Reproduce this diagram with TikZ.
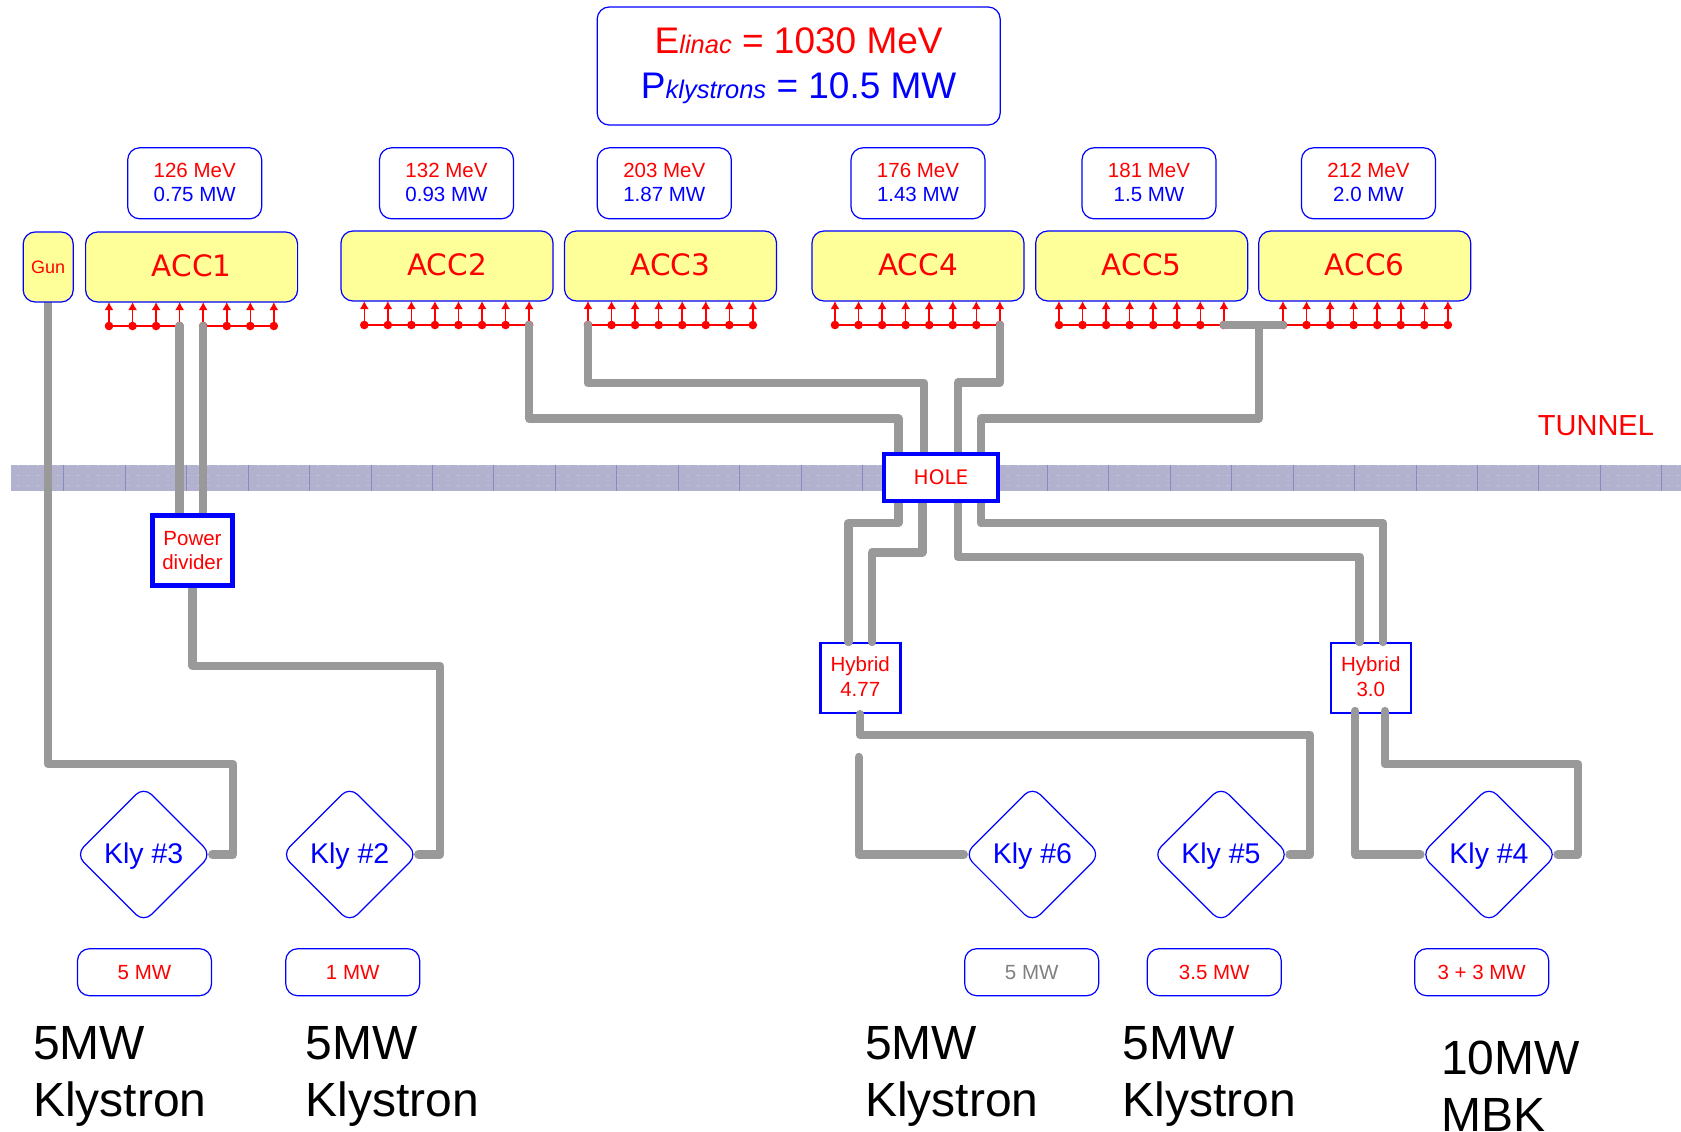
\documentclass[tikz,border=0pt]{standalone}
\usepackage{fontspec}
\setmainfont{Liberation Sans}
\newfontfamily\accfont{DejaVu Sans}
\usetikzlibrary{arrows.meta,backgrounds,positioning,shapes.geometric}
\definecolor{accyellow}{HTML}{FFFF99}
\definecolor{cablegrey}{HTML}{999999}
\definecolor{tunnelblue}{HTML}{B2B2CF}
\definecolor{tunneltick}{HTML}{8A8ABE}
\tikzset{
  accbox/.style={draw=blue,line width=1.2pt,fill=accyellow,rounded corners=12pt,minimum width=212pt,minimum height=70pt,inner sep=0pt,text=red,text depth=2pt,font=\accfont\fontsize{29.5}{35}\selectfont},
  gunbox/.style={accbox,minimum width=50pt,text depth=0pt,font=\fontsize{18}{22}\selectfont},
  infobox/.style={draw=blue,line width=1.2pt,fill=white,rounded corners=12pt,minimum width=134pt,minimum height=71pt,inner sep=0pt,align=center,font=\fontsize{20.5}{24.5}\selectfont},
  totalbox/.style={infobox,minimum width=403pt,minimum height=118pt,font=\fontsize{37}{44.7}\selectfont},
  devbox/.style={draw=blue,fill=white,inner sep=0pt,align=center,text=red},
  klybox/.style={diamond,aspect=1,draw=blue,line width=1.2pt,rounded corners=11pt,minimum width=136pt,minimum height=136pt,inner sep=0pt,text=blue,text height=24pt,font=\fontsize{28.5}{34}\selectfont},
  biglabel/.style={anchor=base west,align=left,inner sep=0pt,font=\fontsize{48}{57}\selectfont},
  cable/.style={draw=cablegrey,line width=8.4pt,line join=round,line cap=round},
  feed/.style={draw=red,line width=1.5pt,-{Latex[length=8pt,width=9pt]}},
  feedbar/.style={draw=red,line width=1.5pt}
}
\begin{document}
\begin{tikzpicture}[x=1pt,y=-1pt]
\useasboundingbox (0,0) rectangle (1681,1132);

\node[totalbox] (total) at (798.7,66) {\textcolor{red}{E{\fontsize{25.5}{25.5}\selectfont\itshape linac} = 1030 MeV}\\\textcolor{blue}{P{\fontsize{25.5}{25.5}\selectfont\itshape klystrons} = 10.5 MW}};

\foreach \name/\xc/\mev/\mwatt in {info1/194.7/126/0.75,info2/446.5/132/0.93,info3/664.3/203/1.87,info4/918/176/1.43,info5/1149/181/1.5,info6/1368.5/212/2.0}{
  \node[infobox,text depth=2pt] (\name) at (\xc,183.3) {\textcolor{red}{\mev{} MeV}\\\textcolor{blue}{\mwatt{} MW}};
}

\node[gunbox] (gun) at (48.2,267) {Gun};
\node[accbox] (acc1) at (191.6,267) {ACC1};
\foreach \name/\label/\xc in {acc2/ACC2/447,acc3/ACC3/670.5,acc4/ACC4/918,acc5/ACC5/1141.7,acc6/ACC6/1364.7}{
  \node[accbox] (\name) at (\xc,266) {\label};
}

\node[devbox,line width=4pt,minimum width=114pt,minimum height=47pt,font=\accfont\fontsize{20}{24}\selectfont] (hole) at (941,477.5) {HOLE};
\node[devbox,line width=4.5pt,minimum width=80pt,minimum height=70pt,font=\fontsize{20.5}{24.5}\selectfont] (divider) at (192.5,550.3) {Power\\divider};

\foreach \name/\label/\xc in {kly3/3/143.7,kly2/2/349.7,kly6/6/1032.4,kly5/5/1221,kly4/4/1489}{
  \node[klybox] (\name) at (\xc,854.5) {Kly \#\label};
}

\foreach \name/\label/\xa/\col in {out3/5 MW/144.5/red,out2/1 MW/352.7/red,out6/5 MW/1031.7/gray,out5/3.5 MW/1214.2/red,out4/3 + 3 MW/1481.7/red}{
  \node[infobox,minimum height=47pt,text=\col] (\name) at (\xa,972.2) {\label};
}

\node[biglabel] (label3) at (33,1116) {5MW\\Klystron};
\node[biglabel] (label2) at (305.5,1116) {5MW\\Klystron};
\node[biglabel] (label6) at (865,1116) {5MW\\Klystron};
\node[biglabel] (label5) at (1122.5,1116) {5MW\\Klystron};
\node[biglabel] (label4) at (1441,1131) {10MW\\MBK};

\node[anchor=base west,inner sep=0pt,text=red,font=\fontsize{29}{35}\selectfont] (tunnel) at (1537.7,435) {TUNNEL};

\begin{scope}[on background layer]
% tunnel wall
\fill[tunnelblue] (11,465) rectangle (1681,490.7);
\foreach \yd in {465.5,475.5,485.5}{
  \foreach \xd in {18,28,...,1678}{
    \fill[white,opacity=0.6] (\xd,\yd) circle (0.6);
  }
}
\foreach \k in {0,...,26}{
  \draw[tunneltick,line width=0.9pt] (63.6+61.47*\k,465) -- (63.6+61.47*\k,490.7);
}

% rf feeds under each module
\foreach \acc/\xa/\ya in {a1/109/326,a2/364.3/325,a3/588/325,a4/835/325,a5/1059/325,a6/1283/325}{
  \foreach \i in {1,...,8}{
    \coordinate (\acc d\i) at (\xa+23.55*\i-23.55,\ya);
    \draw[feed] (\acc d\i) -- ++(0,-24);
    \fill[red] (\acc d\i) circle (4.3);
  }
}
\draw[feedbar] (a1d1) -- (a1d4);
\draw[feedbar] (a1d5) -- (a1d8);
\foreach \acc in {a2,a3,a4,a5,a6}{
  \draw[feedbar] (\acc d1) -- (\acc d8);
}

\node[devbox,line width=2.6pt,minimum width=80pt,minimum height=70pt,text depth=2pt,font=\fontsize{20.5}{24.5}\selectfont] (hyb477) at (860.2,677.8) {Hybrid\\4.77};
\node[devbox,line width=2.6pt,minimum width=80pt,minimum height=70pt,text depth=2pt,font=\fontsize{20.5}{24.5}\selectfont] (hyb30) at (1370.8,677.8) {Hybrid\\3.0};

\coordinate (kly6end) at (858.7,757);

% waveguides
\draw[cable] (gun.south) |- (233,764) -- (233,854.5) -- (kly3.east);
\draw[cable] (a1d4) -- (a1d4 |- divider.north);
\draw[cable] (a1d5) -- (a1d5 |- divider.north);
\draw[cable] (divider.south) |- (440,665.7) -- (440,854.5) -- (kly2.east);

\draw[cable] (a2d8) |- (898.3,418.5) -- (898.3,452);
\draw[cable] (a3d1) |- (924,383) -- (924,452);
\draw[cable] (a4d8) |- (958,382.5) -- (958,452);
\draw[cable] (a5d8) -- (a6d1);
\draw[cable] (1258.7,325) |- (981,418.5) -- (981,452);

\draw[cable] (898.3,502) |- (848.6,523) -- (848.6,642);
\draw[cable] (922.3,502) |- (872.2,552.3) -- (872.2,642);
\draw[cable] (957.7,502) |- (1359.6,556.7) -- (1359.6,642);
\draw[cable] (981,502) |- (1383,523) -- (1383,642);

\draw[cable] (hyb477.south) |- (1310,735) -- (1310,854.5) -- (kly5.east);
\draw[cable] (kly6end) |- (kly6.west);
\draw[cable] (1355,711) |- (kly4.west);
\draw[cable] (1384.7,711) |- (1578,764) -- (1578,854.5) -- (kly4.east);
\end{scope}
\end{tikzpicture}
\end{document}
